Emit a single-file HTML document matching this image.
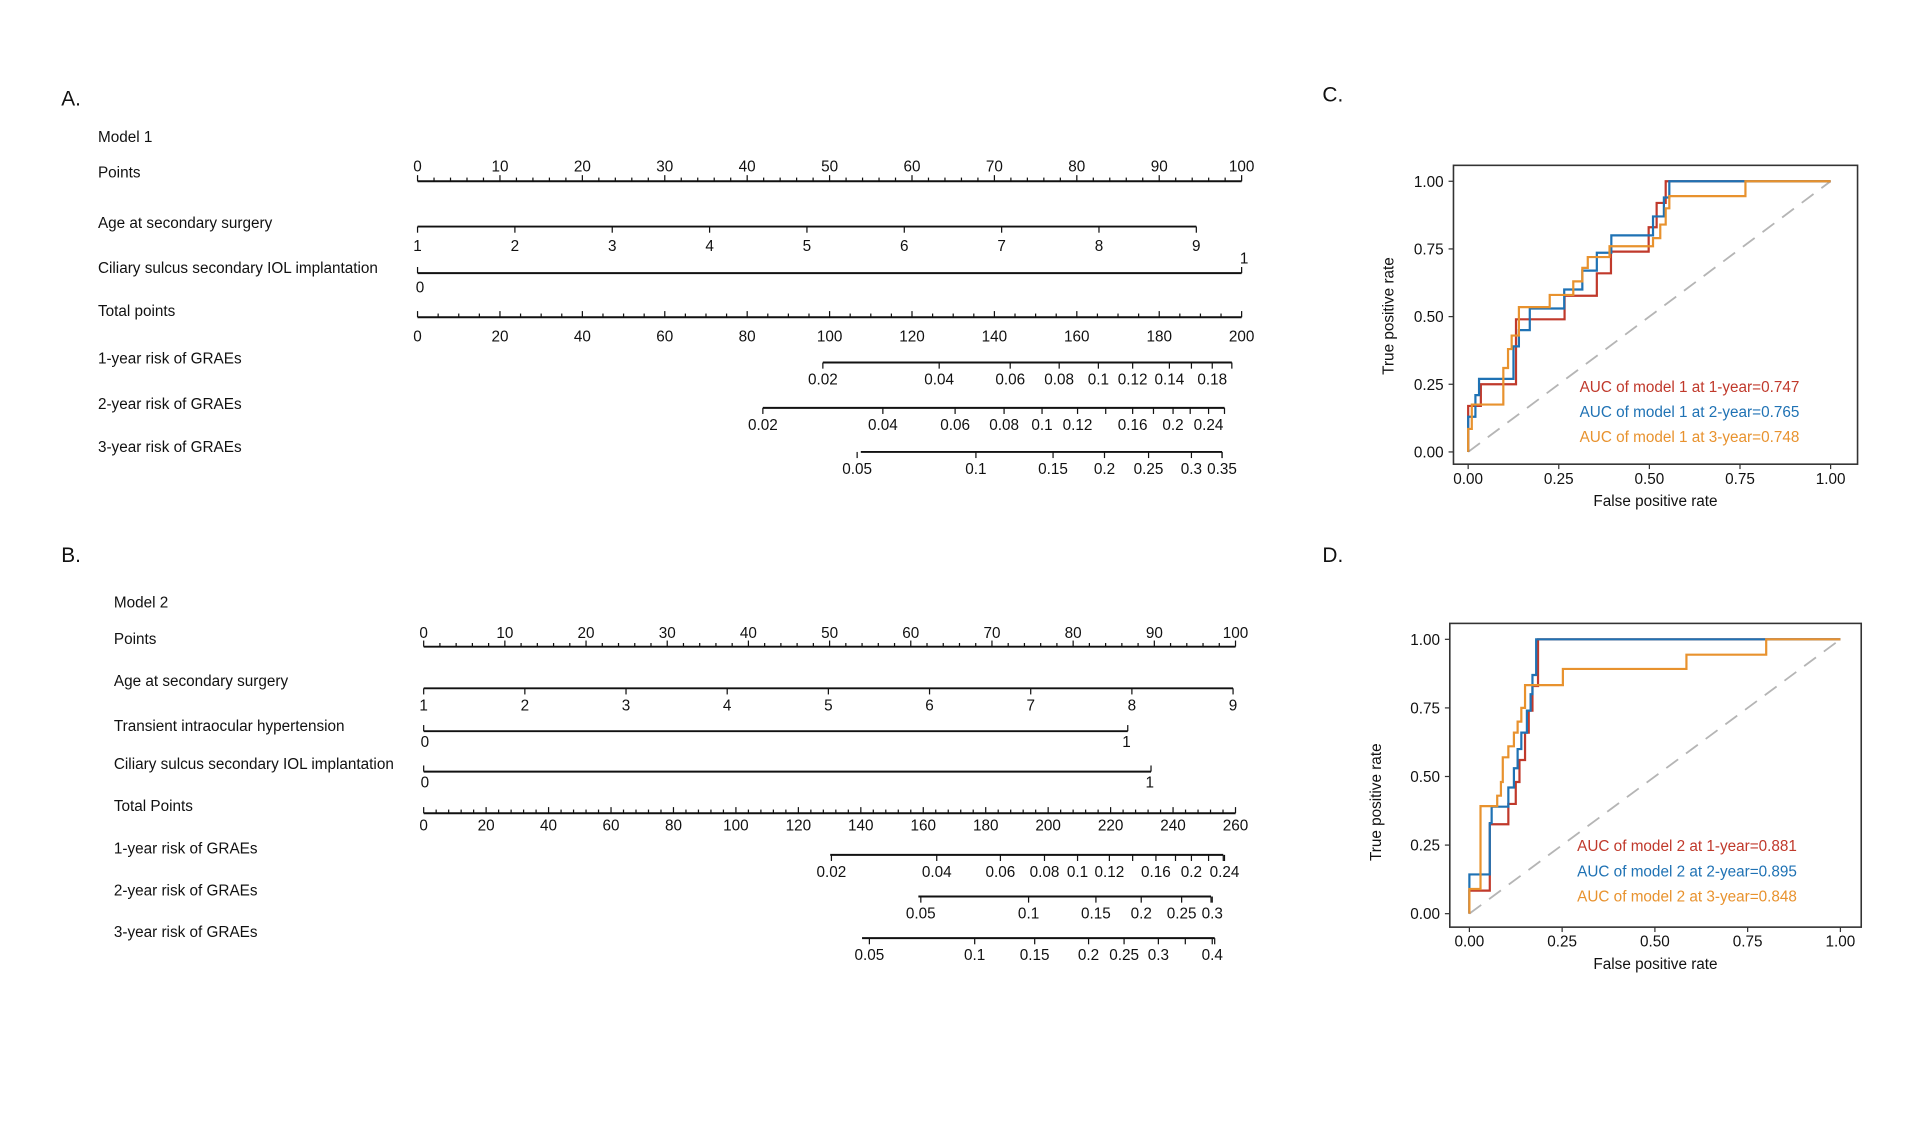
<!DOCTYPE html>
<html><head><meta charset="utf-8"><style>
html,body{margin:0;padding:0;background:#fff;}
svg{display:block;}
text{font-family:"Liberation Sans",Arial,sans-serif;}
</style></head><body>
<svg id="s" width="1920" height="1128" viewBox="0 0 1568 921" preserveAspectRatio="none" xmlns="http://www.w3.org/2000/svg"></svg>
<script>
const S=document.getElementById('s');const NS='http://www.w3.org/2000/svg';
function el(t,a,txt){const e=document.createElementNS(NS,t);for(const k in a)e.setAttribute(k,a[k]);if(txt!==undefined)e.textContent=txt;S.appendChild(e);return e;}
function T(x,y,s,o){o=o||{};return el('text',Object.assign({x:x,y:y,'font-size':o.fs||12.5,'text-anchor':o.a||'start',style:'fill:'+(o.c||'#111')},o.extra||{}),s);}
function L(x1,y1,x2,y2,w,c){el('line',{x1,y1,x2,y2,stroke:c||'#111','stroke-width':w||1});}
// Panel labels
T(50,86,'A.',{fs:17});T(50,459,'B.',{fs:17});T(1080,83,'C.',{fs:17});T(1080,459,'D.',{fs:17});
// ---- Panel A ----
[['Model 1',116],['Points',145],['Age at secondary surgery',186],['Ciliary sulcus secondary IOL implantation',223],['Total points',258],['1-year risk of GRAEs',297],['2-year risk of GRAEs',334],['3-year risk of GRAEs',369]].forEach(r=>T(80,r[1],r[0]));
(function(){const x0=341,x1=1014,y=148;L(x0,y,x1,y,1.6);for(let i=0;i<=50;i++){const x=x0+(x1-x0)*i/50;L(x,y,x,y-(i%5==0?5:3),1);}for(let i=0;i<=10;i++)T(x0+(x1-x0)*i/10,140,String(i*10),{a:'middle'});})();
(function(){const x0=341,x1=977,y=185;L(x0,y,x1,y,1.6);for(let k=1;k<=9;k++){const x=x0+(k-1)*(x1-x0)/8;L(x,y,x,y+5,1);T(x,205,String(k),{a:'middle'});}})();
L(341,223,1014,223,1.6);L(341,223,341,218,1);L(1014,223,1014,218,1);T(343,239,'0',{a:'middle'});T(1016,215,'1',{a:'middle'});
(function(){const x0=341,x1=1014,y=259;L(x0,y,x1,y,1.6);for(let v=0;v<=200;v+=5){const x=x0+(x1-x0)*v/200;L(x,y,x,y-(v%20==0?5:3),1);}for(let v=0;v<=200;v+=20)T(x0+(x1-x0)*v/200,279,String(v),{a:'middle'});})();
function risk(x0,x1,y,labs,extra){L(x0,y,x1,y,1.6);labs.forEach(l=>{L(l[0],y,l[0],y+5,1);T(l[0],y+18,l[1],{a:'middle'});});(extra||[]).forEach(x=>L(x,y,x,y+5,1));L(x1,y,x1,y+5,1);}
risk(672,1006,296,[[672,'0.02'],[767,'0.04'],[825,'0.06'],[865,'0.08'],[897,'0.1'],[925,'0.12'],[955,'0.14'],[990,'0.18']],[973]);
risk(623,1000,333,[[623,'0.02'],[721,'0.04'],[780,'0.06'],[820,'0.08'],[851,'0.1'],[880,'0.12'],[925,'0.16'],[958,'0.2'],[987,'0.24']],[903,942,972]);
risk(703,998,369,[[700,'0.05'],[797,'0.1'],[860,'0.15'],[902,'0.2'],[938,'0.25'],[973,'0.3'],[998,'0.35']]);
// ---- Panel B ----
[['Model 2',496],['Points',526],['Age at secondary surgery',560],['Transient intraocular hypertension',597],['Ciliary sulcus secondary IOL implantation',628],['Total Points',662],['1-year risk of GRAEs',697],['2-year risk of GRAEs',731],['3-year risk of GRAEs',765]].forEach(r=>T(93,r[1],r[0]));
(function(){const x0=346,x1=1009,y=528;L(x0,y,x1,y,1.6);for(let i=0;i<=50;i++){const x=x0+(x1-x0)*i/50;L(x,y,x,y-(i%5==0?5:3),1);}for(let i=0;i<=10;i++)T(x0+(x1-x0)*i/10,521,String(i*10),{a:'middle'});})();
(function(){const x0=346,x1=1007,y=562;L(x0,y,x1,y,1.6);for(let k=1;k<=9;k++){const x=x0+(k-1)*(x1-x0)/8;L(x,y,x,y+5,1);T(x,580,String(k),{a:'middle'});}})();
L(346,597,921,597,1.6);L(346,597,346,592,1);L(921,597,921,592,1);T(347,610,'0',{a:'middle'});T(920,610,'1',{a:'middle'});
L(346,630,940,630,1.6);L(346,630,346,625,1);L(940,630,940,625,1);T(347,643,'0',{a:'middle'});T(939,643,'1',{a:'middle'});
(function(){const x0=346,x1=1009,y=664;L(x0,y,x1,y,1.6);for(let v=0;v<=260;v+=4){const x=x0+(x1-x0)*v/260;L(x,y,x,y-(v%20==0?5:3),1);}for(let v=0;v<=260;v+=20)T(x0+(x1-x0)*v/260,678,String(v),{a:'middle'});})();
risk(678,999,698,[[679,'0.02'],[765,'0.04'],[817,'0.06'],[853,'0.08'],[880,'0.1'],[906,'0.12'],[944,'0.16'],[973,'0.2'],[1000,'0.24']],[925,960,987]);
risk(750,989,732,[[752,'0.05'],[840,'0.1'],[895,'0.15'],[932,'0.2'],[965,'0.25'],[990,'0.3']]);
risk(704,992,766,[[710,'0.05'],[796,'0.1'],[845,'0.15'],[889,'0.2'],[918,'0.25'],[946,'0.3'],[990,'0.4']],[968]);
// ---- ROC ----
const RED='#c0392b',BLUE='#1f72b4',ORG='#e8922e';
function roc(bx0,by0,bx1,by1,px0,px1,py1,py0,curves,legend,ly,ylab){
 el('rect',{x:bx0,y:by0,width:bx1-bx0,height:by1-by0,fill:'none',stroke:'#333','stroke-width':1.3});
 const X=f=>px0+(px1-px0)*f,Y=t=>py0-(py0-py1)*t;
 L(X(0),Y(0),X(1),Y(1),1.5,'#b5b5b5');S.lastChild.setAttribute('stroke-dasharray','12,8');
 [0,0.25,0.5,0.75,1].forEach(v=>{L(bx0-4,Y(v),bx0,Y(v),1,'#333');T(bx0-8,Y(v)+4.5,v.toFixed(2),{a:'end',fs:12.5});L(X(v),by1,X(v),by1+4,1,'#333');T(X(v),by1+16,v.toFixed(2),{a:'middle',fs:12.5});});
 T((bx0+bx1)/2,by1+34,'False positive rate',{a:'middle',fs:12.5});
 T(ylab[0],ylab[1],'True positive rate',{a:'middle',fs:12.5,extra:{transform:'rotate(-90 '+ylab[0]+' '+ylab[1]+')'}});
 curves.forEach(c=>{let y=0;let d='M'+X(0)+' '+Y(0);c.pts.forEach(p=>{d+=' L'+X(p[0])+' '+Y(y);d+=' L'+X(p[0])+' '+Y(p[1]);y=p[1];});d+=' L'+X(1)+' '+Y(y);el('path',{d:d,fill:'none',stroke:c.col,'stroke-width':1.8});});
 legend.forEach((l,i)=>T(ly[0],ly[1]+i*20.5,l[0],{fs:12.5,c:l[1]}));
}
roc(1187,135,1517,379,1199,1495,148,369,[
 {col:RED,pts:[[0,0.17],[0.035,0.25],[0.132,0.49],[0.266,0.577],[0.355,0.66],[0.394,0.74],[0.498,0.83],[0.52,0.92],[0.545,1]]},
 {col:BLUE,pts:[[0,0.13],[0.02,0.21],[0.03,0.27],[0.125,0.39],[0.14,0.45],[0.17,0.53],[0.265,0.6],[0.315,0.67],[0.355,0.736],[0.395,0.8],[0.51,0.87],[0.54,0.94],[0.555,1]]},
 {col:ORG,pts:[[0,0.085],[0.01,0.175],[0.097,0.31],[0.11,0.38],[0.12,0.43],[0.14,0.535],[0.225,0.58],[0.29,0.63],[0.315,0.68],[0.33,0.72],[0.39,0.76],[0.51,0.79],[0.53,0.84],[0.545,0.9],[0.555,0.945],[0.765,1]]}
],[['AUC of model 1 at 1-year=0.747',RED],['AUC of model 1 at 2-year=0.765',BLUE],['AUC of model 1 at 3-year=0.748',ORG]],[1290,320],[1138,258]);
roc(1184,509,1520,757,1200,1503,522,746,[
 {col:RED,pts:[[0,0.084],[0.055,0.326],[0.105,0.4],[0.125,0.48],[0.135,0.56],[0.15,0.66],[0.16,0.74],[0.17,0.83],[0.185,1]]},
 {col:BLUE,pts:[[0,0.143],[0.055,0.33],[0.06,0.39],[0.105,0.46],[0.12,0.53],[0.13,0.6],[0.14,0.66],[0.155,0.74],[0.165,0.8],[0.17,0.87],[0.18,1]]},
 {col:ORG,pts:[[0,0.09],[0.03,0.392],[0.075,0.43],[0.085,0.48],[0.09,0.57],[0.105,0.61],[0.12,0.66],[0.13,0.7],[0.14,0.75],[0.15,0.833],[0.252,0.892],[0.585,0.944],[0.8,1]]}
],[['AUC of model 2 at 1-year=0.881',RED],['AUC of model 2 at 2-year=0.895',BLUE],['AUC of model 2 at 3-year=0.848',ORG]],[1288,695],[1128,655]);
</script>
</body></html>
